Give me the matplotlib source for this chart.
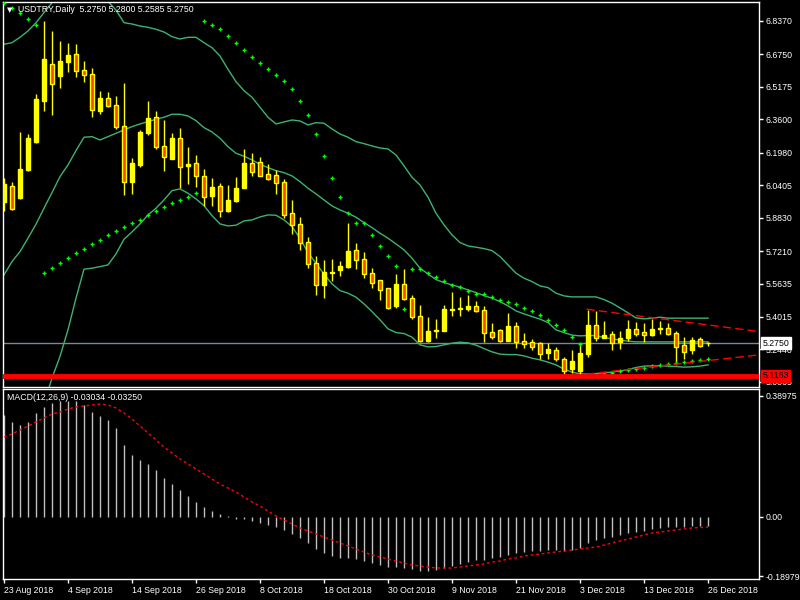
import matplotlib
matplotlib.use('Agg')
import matplotlib.pyplot as plt
import numpy as np

plt.rcParams['font.family'] = ['Liberation Sans', 'DejaVu Sans']

# daily candles, USDTRY
opens = [5.9606, 6.0365, 5.9784, 6.1140, 6.2496, 6.4497, 6.6273, 6.5692, 6.6370, 6.6757,
         6.5982, 6.5788, 6.3997, 6.4626, 6.4287, 6.3270, 6.0575, 6.1398, 6.2947, 6.3706,
         6.2302, 6.1672, 6.2689, 6.1349, 6.1479, 6.0849, 5.9897, 6.0365, 5.9170, 5.9638,
         6.0268, 6.1479, 6.1527, 6.0946, 6.0897, 6.0558, 5.9057, 5.8525, 5.7653, 5.6636,
         5.5587, 5.6168, 5.6313, 5.6458, 5.7265, 5.6830, 5.6152, 5.5796, 5.5425, 5.4570,
         5.5619, 5.4941, 5.4069, 5.2875, 5.3359, 5.3359, 5.4360, 5.4424, 5.4424, 5.4570,
         5.4360, 5.3294, 5.3391, 5.2875, 5.3601, 5.2875, 5.2826, 5.2778, 5.2294, 5.2439,
         5.1987, 5.1503, 5.1374, 5.2245, 5.3633, 5.3020, 5.3214, 5.2826, 5.3020, 5.3440,
         5.3294, 5.3165, 5.3440, 5.3488, 5.3246, 5.2665, 5.2439, 5.2955, 5.2750]
highs = [6.0736, 6.0558, 6.2980, 6.2883, 6.4820, 6.8355, 6.7871, 6.7387, 6.7290, 6.7241,
         6.6418, 6.6079, 6.4981, 6.4917, 6.4723, 6.5353, 6.1721, 6.3077, 6.4481, 6.3997,
         6.3561, 6.2931, 6.3173, 6.2270, 6.1866, 6.1188, 6.0752, 6.0510, 6.0413, 6.0801,
         6.2157, 6.1963, 6.1769, 6.1430, 6.1140, 6.0704, 5.9687, 5.8864, 5.7911, 5.6991,
         5.6781, 5.6830, 5.6733, 5.8573, 5.7604, 5.7169, 5.6410, 5.5800, 5.5425, 5.6103,
         5.6345, 5.5086, 5.4602, 5.4021, 5.3924, 5.4602, 5.5232, 5.4989, 5.5086, 5.4796,
         5.4554, 5.3730, 5.3456, 5.4215, 5.3779, 5.3246, 5.2972, 5.2826, 5.2778, 5.2584,
         5.2100, 5.2391, 5.2762, 5.4376, 5.4328, 5.3827, 5.3343, 5.3343, 5.3876, 5.3779,
         5.3730, 5.3924, 5.3827, 5.3730, 5.3343, 5.3052, 5.3052, 5.3052, 5.2800]
lows = [5.9170, 5.9203, 5.9719, 6.1108, 6.2463, 6.4013, 6.3803, 6.5111, 6.5901, 6.5659,
        6.5417, 6.3722, 6.3868, 6.4207, 6.3109, 5.9945, 5.9993, 6.1301, 6.2851, 6.2140,
        6.1107, 6.1672, 6.0268, 6.0478, 6.0332, 5.9412, 5.9412, 5.8880, 5.9122, 5.9590,
        6.0268, 6.0865, 6.0849, 6.0671, 5.9993, 5.8831, 5.8056, 5.7282, 5.6410, 5.5102,
        5.4957, 5.5780, 5.6023, 5.6410, 5.6362, 5.5926, 5.5441, 5.4860, 5.4424, 5.4473,
        5.4860, 5.3940, 5.2826, 5.2826, 5.3020, 5.3359, 5.4085, 5.4085, 5.4328, 5.4279,
        5.2826, 5.2972, 5.2826, 5.2875, 5.2536, 5.2536, 5.2391, 5.2003, 5.2003, 5.1858,
        5.1164, 5.1293, 5.1261, 5.2100, 5.2875, 5.3020, 5.2439, 5.2487, 5.2875, 5.3117,
        5.2826, 5.3117, 5.3214, 5.3165, 5.1809, 5.2003, 5.2245, 5.2584, 5.2585]
closes = [6.0462, 5.9251, 6.1188, 6.2689, 6.4578, 6.6515, 6.5320, 6.6418, 6.6709, 6.5950,
          6.5756, 6.4061, 6.4626, 6.4239, 6.3222, 6.0575, 6.1479, 6.2980, 6.3658, 6.2270,
          6.1785, 6.2689, 6.1301, 6.1414, 6.0865, 5.9848, 6.0316, 5.9170, 5.9687, 6.0268,
          6.1479, 6.1059, 6.0865, 6.0720, 6.0526, 5.8977, 5.8492, 5.7621, 5.6604, 5.5587,
          5.6200, 5.6216, 5.6491, 5.7217, 5.6797, 5.6119, 5.5684, 5.5344, 5.4473, 5.5619,
          5.4909, 5.4037, 5.2875, 5.3343, 5.3391, 5.4408, 5.4392, 5.4473, 5.4570, 5.4328,
          5.3262, 5.3068, 5.2875, 5.3601, 5.2826, 5.2729, 5.2584, 5.2245, 5.2487, 5.1955,
          5.1374, 5.1890, 5.2278, 5.3633, 5.3020, 5.3149, 5.2778, 5.3004, 5.3440, 5.3214,
          5.3165, 5.3440, 5.3488, 5.3214, 5.2584, 5.2342, 5.2907, 5.2633, 5.2750]

# Bollinger bands (20, 2)
bbUpper = [6.7227, 6.7305, 6.7565, 6.7871, 6.8273, 6.8757, 6.9241, 6.950, 6.945, 6.940,
           6.935, 6.935, 6.930, 6.930, 6.8888, 6.8273, 6.8210, 6.8113, 6.8050, 6.7953,
           6.7822, 6.7595, 6.7483, 6.7565, 6.7565, 6.7305, 6.7063, 6.6660, 6.6016, 6.5415,
           6.4980, 6.4659, 6.4175, 6.3691, 6.3367, 6.3463, 6.3560, 6.3512, 6.3318, 6.3430,
           6.3401, 6.3125, 6.2882, 6.2723, 6.2510, 6.2413, 6.2301, 6.2204, 6.2156, 6.1865,
           6.1333, 6.0785, 6.0412, 5.9817, 5.9042, 5.8475, 5.7991, 5.7618, 5.7458, 5.7394,
           5.7328, 5.7231, 5.6941, 5.6538, 5.6136, 5.5894, 5.5730, 5.5521, 5.5439, 5.5167,
           5.5036, 5.4988, 5.4988, 5.4988, 5.4988, 5.4859, 5.4683, 5.4456, 5.4214, 5.3972,
           5.3923, 5.3957, 5.4006, 5.3957, 5.3957, 5.3957, 5.3957, 5.3957, 5.3957]
bbMiddle = [5.6054, 5.6698, 5.7182, 5.7831, 5.8509, 5.9284, 6.0040, 6.0815, 6.1381, 6.2074,
            6.2723, 6.2752, 6.2592, 6.2752, 6.2916, 6.3076, 6.3236, 6.3367, 6.3478, 6.3594,
            6.3691, 6.3837, 6.3837, 6.3754, 6.3527, 6.3188, 6.2980, 6.2674, 6.2267, 6.1947,
            6.1802, 6.1623, 6.1415, 6.1250, 6.1105, 6.1008, 6.0848, 6.0572, 6.0253, 5.9977,
            5.9686, 5.9395, 5.9202, 5.9042, 5.8848, 5.8587, 5.8345, 5.8073, 5.7831, 5.7555,
            5.7265, 5.6863, 5.6378, 5.6102, 5.5827, 5.5682, 5.5569, 5.5458, 5.5328, 5.5196,
            5.5051, 5.4926, 5.4761, 5.4553, 5.4310, 5.4165, 5.4035, 5.3909, 5.3744, 5.3390,
            5.3260, 5.3134, 5.3100, 5.3114, 5.3114, 5.3018, 5.2955, 5.2892, 5.2843, 5.2809,
            5.2809, 5.2809, 5.2809, 5.2809, 5.2809, 5.2809, 5.2809, 5.2809, 5.2809]
bbLower = [4.488, 4.609, 4.680, 4.779, 4.875, 4.981, 5.1052, 5.2099, 5.3390, 5.4926,
           5.6330, 5.6378, 5.6456, 5.6538, 5.7071, 5.7783, 5.8136, 5.8524, 5.8959, 5.9284,
           5.9686, 6.0136, 6.0219, 6.0011, 5.9735, 5.9410, 5.8926, 5.8524, 5.8427, 5.8461,
           5.8669, 5.8718, 5.8863, 5.8959, 5.8945, 5.8718, 5.8393, 5.7831, 5.7134, 5.6620,
           5.6088, 5.5618, 5.5294, 5.5167, 5.4974, 5.4650, 5.4277, 5.3875, 5.3439, 5.3261,
           5.3212, 5.3037, 5.2664, 5.2567, 5.2582, 5.2664, 5.2745, 5.2794, 5.2760, 5.2649,
           5.2484, 5.2325, 5.2213, 5.2194, 5.2194, 5.2131, 5.2019, 5.1937, 5.1826, 5.1695,
           5.1488, 5.1343, 5.1260, 5.1245, 5.1274, 5.1308, 5.1343, 5.1391, 5.1469, 5.1566,
           5.1634, 5.1648, 5.1648, 5.1634, 5.1614, 5.1585, 5.1600, 5.1634, 5.1695]

# parabolic SAR
sar = [6.925, 6.8985, 6.8728, 6.8437, 6.8176, 5.6136, 5.6378, 5.6620, 5.6863, 5.7105,
       5.7313, 5.7541, 5.7749, 5.7977, 5.8185, 5.8364, 5.8558, 5.8732, 5.8945, 5.9139,
       5.9333, 5.9526, 5.9672, 5.9846, 6.0011, 6.8340, 6.8146, 6.7953, 6.7614, 6.7275,
       6.6936, 6.6597, 6.6306, 6.6016, 6.5725, 6.5435, 6.5047, 6.4466, 6.3788, 6.2868,
       6.1802, 6.0737, 5.9817, 5.9042, 5.8558, 5.8558, 5.7977, 5.7473, 5.6989, 5.6505,
       5.4423, 5.6330, 5.6330, 5.6166, 5.5972, 5.5778, 5.5585, 5.5458, 5.5265, 5.5119,
       5.5119, 5.4974, 5.4828, 5.4732, 5.4635, 5.4441, 5.4296, 5.4102, 5.3860, 5.3618,
       5.3377, 5.3037, 5.2713, 5.1198, 5.1212, 5.1245, 5.1308, 5.1405, 5.1454, 5.1502,
       5.1535, 5.1632, 5.1680, 5.1729, 5.1777, 5.1826, 5.1874, 5.1923, 5.1971]

# MACD(12,26,9): main as histogram, signal dotted
macdMain = [0.3278, 0.3053, 0.2956, 0.3053, 0.3342, 0.3535, 0.3663, 0.3728, 0.3728, 0.3728,
            0.3599, 0.3374, 0.3246, 0.3117, 0.2860, 0.2314, 0.1992, 0.1832, 0.1703, 0.1510,
            0.1253, 0.1060, 0.0868, 0.0675, 0.0482, 0.0321, 0.0193, 0.0096, 0.0032, -0.0064,
            -0.0064, -0.0129, -0.0193, -0.0257, -0.0321, -0.0418, -0.0546, -0.0675, -0.0835, -0.1028,
            -0.1157, -0.1253, -0.1317, -0.1317, -0.1350, -0.1414, -0.1478, -0.1542, -0.1607, -0.1607,
            -0.1639, -0.1671, -0.1735, -0.1735, -0.1703, -0.1639, -0.1575, -0.1510, -0.1446, -0.1382,
            -0.1382, -0.1317, -0.1285, -0.1221, -0.1157, -0.1125, -0.1093, -0.1093, -0.1060, -0.1060,
            -0.1093, -0.1060, -0.0996, -0.0835, -0.0739, -0.0675, -0.0643, -0.0578, -0.0514, -0.0482,
            -0.0450, -0.0386, -0.0353, -0.0321, -0.0321, -0.0321, -0.0289, -0.0289, -0.03034]
macdSignal = [0.2571, 0.2667, 0.2796, 0.2924, 0.3053, 0.3181, 0.3310, 0.3374, 0.3470, 0.3535,
              0.3567, 0.3599, 0.3631, 0.3599, 0.3503, 0.3342, 0.3149, 0.2924, 0.2699, 0.2474,
              0.2249, 0.2057, 0.1864, 0.1703, 0.1542, 0.1382, 0.1221, 0.1060, 0.0932, 0.0803,
              0.0643, 0.0482, 0.0353, 0.0193, 0.0032, -0.0096, -0.0225, -0.0353, -0.0450, -0.0546,
              -0.0643, -0.0739, -0.0835, -0.0932, -0.1028, -0.1125, -0.1221, -0.1285, -0.1350, -0.1414,
              -0.1478, -0.1542, -0.1575, -0.1607, -0.1639, -0.1639, -0.1639, -0.1607, -0.1575, -0.1542,
              -0.1510, -0.1446, -0.1414, -0.1350, -0.1317, -0.1253, -0.1221, -0.1189, -0.1157, -0.1125,
              -0.1093, -0.1060, -0.1028, -0.0996, -0.0964, -0.0900, -0.0835, -0.0771, -0.0707, -0.0643,
              -0.0578, -0.0514, -0.0482, -0.0450, -0.0418, -0.0386, -0.0353, -0.0337, -0.0325]

dateLabels = ['23 Aug 2018', '4 Sep 2018', '14 Sep 2018', '26 Sep 2018', '8 Oct 2018',
              '18 Oct 2018', '30 Oct 2018', '9 Nov 2018', '21 Nov 2018', '3 Dec 2018',
              '13 Dec 2018', '26 Dec 2018']
priceTicks = [6.8370, 6.6750, 6.5175, 6.3600, 6.1980, 6.0405, 5.8830, 5.7210,
              5.5635, 5.4015, 5.2440, 5.0865]
macdTicks = [0.38975, 0.0, -0.18979]
macdTickLabels = ['0.38975', '0.00', '-0.18979']

# triangle trend lines (bar index, price)
upperTrendBars = [72.8, 94.4]
upperTrendPrices = [5.4393, 5.3308]
lowerTrendBars = [72.8, 94.4]
lowerTrendPrices = [5.1245, 5.2180]

supportLevel = 5.1163
bidPrice = 5.2750

FS = 6.3
W, H = 800, 600


def styleAxes(ax):
    ax.set_facecolor('black')
    for s in ax.spines.values():
        s.set_color('white')
        s.set_linewidth(1)
    ax.yaxis.tick_right()
    ax.tick_params(axis='y', colors='white', labelsize=FS, length=3, width=1, pad=1.5)
    ax.tick_params(axis='x', colors='white', labelsize=FS, length=3, width=1, pad=2)


def drawCandles(ax, x):
    o = np.array(opens)
    c = np.array(closes)
    ax.vlines(x, lows, highs, color='yellow', lw=1, zorder=3)
    up = c >= o
    bottom = np.minimum(o, c)
    height = np.maximum(np.abs(c - o), 0.0008)
    ax.bar(x[up], height[up], bottom=bottom[up], width=0.5, color='yellow',
           edgecolor='yellow', linewidth=1, zorder=4)
    ax.bar(x[~up], height[~up], bottom=bottom[~up], width=0.5, color='#FF4500',
           edgecolor='yellow', linewidth=1, zorder=4)


def main():
    x = np.arange(len(closes))
    xlim = (-0.16, 94.41)

    fig = plt.figure(figsize=(W / 100, H / 100), dpi=100)
    fig.patch.set_facecolor('black')

    ax1 = fig.add_axes([2.7 / W, 1 - 387.3 / H, 756.6 / W, 385 / H])
    ax2 = fig.add_axes([2.7 / W, 1 - 579.3 / H, 756.6 / W, 190.3 / H])
    styleAxes(ax1)
    styleAxes(ax2)

    # price pane
    ax1.plot(x, bbUpper, color='#3CB371', lw=1, zorder=2)
    ax1.plot(x, bbMiddle, color='#3CB371', lw=1, zorder=2)
    ax1.plot(x, bbLower, color='#3CB371', lw=1, zorder=2)
    ax1.plot(x, sar, linestyle='none', marker='+', markersize=3.5,
             markeredgewidth=1, color='#00FF00', zorder=5)
    drawCandles(ax1, x)
    ax1.axhline(bidPrice, color='#778899', lw=1, zorder=1)
    ax1.axhline(supportLevel, color='red', lw=3.5, zorder=6)
    ax1.plot(upperTrendBars, upperTrendPrices, color='red', lw=1,
             linestyle=(0, (6, 3)), zorder=6)
    ax1.plot(lowerTrendBars, lowerTrendPrices, color='red', lw=1,
             linestyle=(0, (6, 3)), zorder=6)

    ax1.set_xlim(xlim)
    ax1.set_ylim(5.0608, 6.9261)
    ax1.set_xticks([])
    ax1.set_yticks(priceTicks)
    ax1.set_yticklabels(['%.4f' % p for p in priceTicks])

    ytr = ax1.get_yaxis_transform()
    ax1.text(1.004, bidPrice, '%.4f' % bidPrice, transform=ytr, fontsize=FS,
             color='black', va='center', ha='left', clip_on=False, zorder=10,
             bbox=dict(facecolor='white', edgecolor='white', pad=1.2))
    ax1.text(1.004, supportLevel, '%.4f' % supportLevel, transform=ytr, fontsize=FS,
             color='black', va='center', ha='left', clip_on=False, zorder=10,
             bbox=dict(facecolor='red', edgecolor='red', pad=1.2))

    # MACD pane
    ax2.vlines(x, 0, macdMain, color='#C0C0C0', lw=1)
    ax2.plot(x, macdSignal, color='red', lw=1, linestyle=(0, (2, 2)))
    ax2.set_xlim(xlim)
    ax2.set_ylim(-0.2002, 0.4113)
    ax2.set_yticks(macdTicks)
    ax2.set_yticklabels(macdTickLabels)
    ax2.set_xticks(np.arange(0, len(closes), 8))
    ax2.set_xticklabels(dateLabels, ha='left')

    fig.text(7 / W, 1 - 10 / H, '\u25bc', color='white', fontsize=5,
             family='DejaVu Sans', va='center', ha='left')
    fig.text(18 / W, 1 - 10 / H, 'USDTRY,Daily  5.2750 5.2800 5.2585 5.2750',
             color='white', fontsize=FS, va='center', ha='left')
    fig.text(7 / W, 1 - 397 / H, 'MACD(12,26,9) -0.03034 -0.03250',
             color='white', fontsize=FS, va='center', ha='left')

    fig.savefig('out.png', dpi=100, facecolor='black')


if __name__ == "__main__":
    main()
